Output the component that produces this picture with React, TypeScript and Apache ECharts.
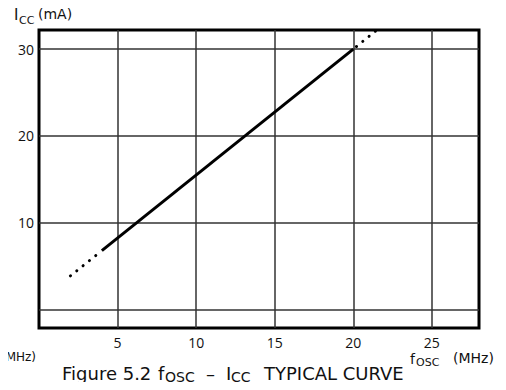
import React, { useEffect, useRef } from "react";
import * as echarts from "echarts";

const xTickValues = [5, 10, 15, 20, 25];
const yTickValues = [0, 10, 20, 30];
const yLabelValues = [10, 20, 30];
const solidCurve = [
  [4, 6.8],
  [20, 30],
];
const dottedLow = [
  [2, 3.9],
  [4, 6.8],
];
const dottedHigh = [
  [20, 30],
  [21.5, 32.2],
];

const FONT = "'Open Sans', 'DejaVu Sans', sans-serif";
const WIDE = "'DejaVu Sans', sans-serif";

function txt(text: string, x: number, y: number, size: number, align = "left", family = WIDE) {
  return {
    type: "text",
    x,
    y,
    silent: true,
    style: {
      text,
      fontSize: size,
      fontFamily: family,
      fill: "#111",
      align,
      verticalAlign: "middle",
      textAlign: align,
      textVerticalAlign: "middle",
    },
  };
}

export default function App() {
  const ref = useRef<HTMLDivElement>(null);
  useEffect(() => {
    if (!ref.current) return;
    const chart = echarts.init(ref.current, null, { renderer: "svg" });
    const capY = 373;
    const subY = 377;
    chart.setOption({
      animation: false,
      backgroundColor: "#fff",
      grid: {
        left: 39,
        right: 27,
        top: 30,
        bottom: 62,
        show: true,
        borderColor: "#000",
        borderWidth: 3,
        backgroundColor: "transparent",
      },
      xAxis: {
        type: "value",
        min: 0,
        max: 28,
        axisLine: { show: false },
        axisTick: { show: false, customValues: xTickValues },
        axisLabel: {
          customValues: xTickValues,
          fontSize: 14,
          fontFamily: FONT,
          color: "#111",
          margin: 7,
        },
        splitLine: { show: true, lineStyle: { color: "#333", width: 1.5 } },
      },
      yAxis: {
        type: "value",
        min: -2.1,
        max: 32.2,
        axisLine: { show: false },
        axisTick: { show: false, customValues: yTickValues },
        axisLabel: {
          customValues: yLabelValues,
          fontSize: 14,
          fontFamily: FONT,
          color: "#111",
          margin: 5,
        },
        splitLine: { show: true, lineStyle: { color: "#333", width: 1.5 } },
      },
      series: [
        {
          type: "line",
          data: solidCurve,
          symbol: "none",
          lineStyle: { color: "#000", width: 3 },
        },
        {
          type: "line",
          data: dottedLow,
          symbol: "none",
          lineStyle: { color: "#000", width: 3, type: [0.1, 8], cap: "round" },
        },
        {
          type: "line",
          data: dottedHigh,
          symbol: "none",
          lineStyle: { color: "#000", width: 3, type: [0.1, 8], cap: "round", dashOffset: 4 },
        },
      ],
      graphic: [
        txt("I", 14, 15, 15),
        txt("CC", 19, 20, 11),
        txt("(mA)", 38, 14, 14),
        txt("(MHz)", 1, 357, 12),
        txt("Figure 5.2", 62, capY, 18),
        txt("f", 158, capY, 18),
        txt("OSC", 165, subY, 14),
        txt("–", 206, capY, 18),
        txt("I", 226, capY, 18),
        txt("CC", 231, subY, 14),
        txt("TYPICAL CURVE", 264, capY, 18),
        txt("f", 410, 359, 14),
        txt("OSC", 416, 362, 11),
        txt("(MHz)", 453, 358, 14),
      ],
    });
    return () => chart.dispose();
  }, []);
  return <div ref={ref} style={{ width: 506, height: 390, margin: -8 }} />;
}
